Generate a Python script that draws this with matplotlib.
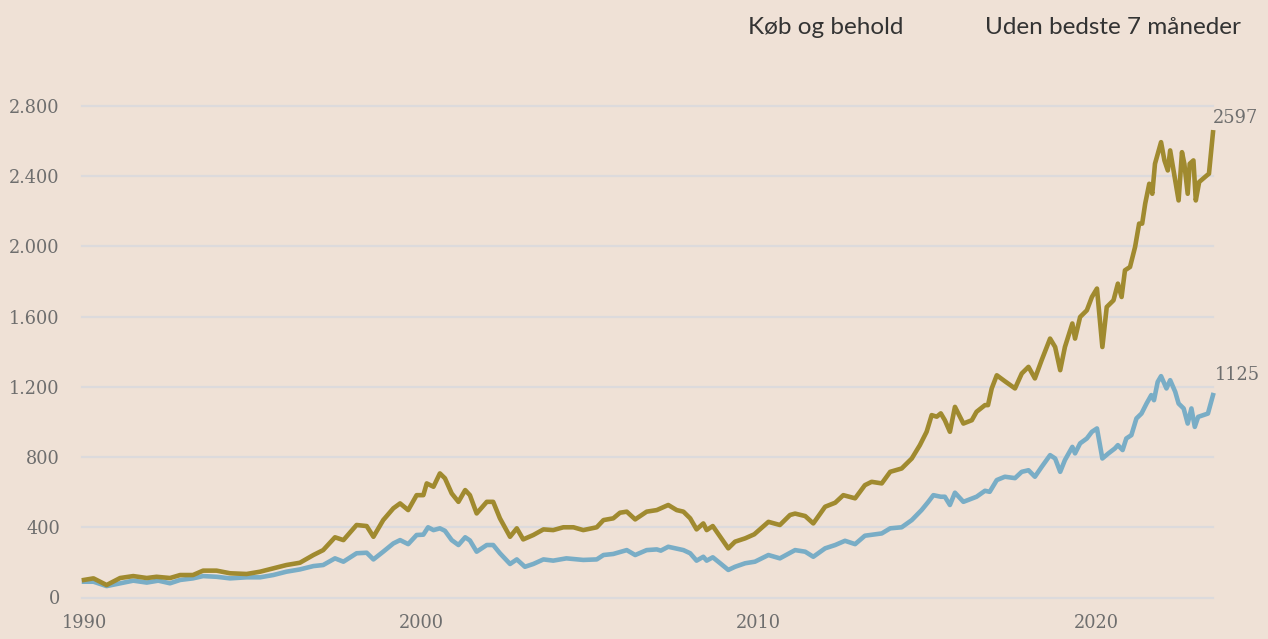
import matplotlib.pyplot as plt

# Buy-and-hold vs. missing the best 7 months
gold_years = [1990.00, 1990.28, 1990.67, 1991.07, 1991.46, 1991.86, 1992.15, 1992.55, 1992.85, 1993.23,
              1993.53, 1993.93, 1994.33, 1994.82, 1995.22, 1995.61, 1996.00, 1996.40, 1996.80, 1997.09,
              1997.44, 1997.69, 1998.08, 1998.38, 1998.58, 1998.87, 1999.17, 1999.37, 1999.61, 1999.86,
              2000.06, 2000.16, 2000.36, 2000.55, 2000.70, 2000.90, 2001.10, 2001.30, 2001.44, 2001.64,
              2001.94, 2002.13, 2002.33, 2002.63, 2002.83, 2003.02, 2003.32, 2003.62, 2003.91, 2004.21,
              2004.51, 2004.80, 2005.20, 2005.40, 2005.69, 2005.89, 2006.09, 2006.34, 2006.68, 2006.98,
              2007.32, 2007.57, 2007.77, 2007.97, 2008.16, 2008.36, 2008.46, 2008.64, 2008.86, 2009.10,
              2009.30, 2009.60, 2009.87, 2010.29, 2010.63, 2010.93, 2011.08, 2011.38, 2011.62, 2011.97,
              2012.27, 2012.51, 2012.86, 2013.15, 2013.35, 2013.65, 2013.90, 2014.24, 2014.54, 2014.78,
              2014.98, 2015.13, 2015.28, 2015.40, 2015.52, 2015.67, 2015.82, 2016.07, 2016.32, 2016.46,
              2016.71, 2016.80, 2016.91, 2017.06, 2017.30, 2017.60, 2017.80, 2018.00, 2018.19, 2018.39,
              2018.64, 2018.79, 2018.94, 2019.08, 2019.30, 2019.38, 2019.53, 2019.73, 2019.88, 2020.03,
              2020.19, 2020.32, 2020.52, 2020.65, 2020.76, 2020.86, 2021.01, 2021.16, 2021.28, 2021.37,
              2021.46, 2021.58, 2021.67, 2021.75, 2021.93, 2022.03, 2022.13, 2022.20, 2022.30, 2022.45,
              2022.55, 2022.62, 2022.72, 2022.78, 2022.89, 2022.96, 2023.06, 2023.29, 2023.35, 2023.47]
gold_vals = [100, 109, 71, 111, 122, 111, 118, 111, 128, 128,
             153, 153, 138, 134, 147, 166, 185, 198, 242, 270,
             343, 327, 413, 407, 346, 441, 508, 536, 498, 583,
             583, 650, 631, 707, 679, 593, 545, 612, 583, 479,
             545, 545, 451, 346, 394, 331, 356, 388, 384, 400,
             400, 384, 400, 441, 451, 483, 489, 445, 489, 498,
             527, 498, 489, 451, 388, 422, 384, 407, 346, 280,
             318, 337, 360, 431, 413, 470, 478, 464, 422, 517,
             540, 583, 565, 640, 659, 650, 716, 735, 792, 868,
             944, 1039, 1030, 1049, 1010, 944, 1086, 991, 1010, 1058,
             1096, 1096, 1191, 1266, 1232, 1191, 1276, 1314, 1248, 1352,
             1475, 1427, 1295, 1427, 1561, 1475, 1598, 1636, 1712, 1760,
             1427, 1655, 1693, 1788, 1712, 1864, 1883, 1997, 2130, 2130,
             2244, 2357, 2300, 2471, 2594, 2490, 2433, 2547, 2433, 2262,
             2537, 2471, 2300, 2471, 2490, 2262, 2367, 2405, 2414, 2650]

blue_years = [1990.00, 1990.28, 1990.67, 1991.07, 1991.46, 1991.86, 1992.20, 1992.55, 1992.85, 1993.23,
              1993.53, 1993.93, 1994.33, 1994.82, 1995.22, 1995.61, 1996.00, 1996.40, 1996.80, 1997.09,
              1997.44, 1997.69, 1998.08, 1998.38, 1998.58, 1998.87, 1999.17, 1999.37, 1999.61, 1999.86,
              2000.06, 2000.20, 2000.36, 2000.55, 2000.70, 2000.90, 2001.10, 2001.30, 2001.44, 2001.64,
              2001.94, 2002.13, 2002.33, 2002.63, 2002.83, 2003.07, 2003.32, 2003.62, 2003.91, 2004.30,
              2004.80, 2005.20, 2005.40, 2005.69, 2006.09, 2006.34, 2006.68, 2006.98, 2007.10, 2007.32,
              2007.77, 2007.97, 2008.16, 2008.36, 2008.46, 2008.64, 2008.86, 2009.10, 2009.30, 2009.60,
              2009.89, 2010.29, 2010.63, 2011.08, 2011.38, 2011.62, 2011.97, 2012.27, 2012.56, 2012.86,
              2013.15, 2013.65, 2013.90, 2014.24, 2014.54, 2014.83, 2015.03, 2015.18, 2015.40, 2015.52,
              2015.67, 2015.82, 2016.07, 2016.46, 2016.71, 2016.85, 2017.06, 2017.30, 2017.60, 2017.80,
              2018.00, 2018.19, 2018.39, 2018.64, 2018.79, 2018.94, 2019.08, 2019.30, 2019.38, 2019.53,
              2019.73, 2019.88, 2020.03, 2020.19, 2020.37, 2020.56, 2020.65, 2020.79, 2020.90, 2021.05,
              2021.20, 2021.35, 2021.50, 2021.64, 2021.72, 2021.83, 2021.93, 2022.09, 2022.20, 2022.35,
              2022.45, 2022.60, 2022.72, 2022.83, 2022.93, 2023.03, 2023.32, 2023.47]
blue_vals = [90, 90, 65, 81, 96, 85, 96, 81, 100, 109,
             122, 118, 109, 115, 115, 128, 147, 160, 179, 185,
             223, 204, 252, 255, 217, 261, 308, 327, 304, 356,
             358, 400, 384, 394, 380, 327, 299, 343, 325, 261,
             299, 299, 252, 191, 217, 175, 191, 217, 210, 223,
             214, 217, 242, 248, 270, 242, 270, 274, 267, 289,
             270, 252, 210, 232, 210, 229, 195, 157, 175, 195,
             204, 242, 223, 270, 261, 232, 280, 299, 323, 304,
             352, 365, 394, 400, 441, 498, 545, 583, 574, 574,
             527, 597, 545, 574, 608, 602, 669, 688, 680, 716,
             725, 688, 744, 811, 792, 716, 783, 858, 821, 878,
             906, 944, 963, 792, 821, 849, 868, 840, 906, 925,
             1020, 1048, 1105, 1153, 1124, 1228, 1261, 1191, 1238, 1172,
             1105, 1077, 991, 1077, 972, 1029, 1048, 1153]

series_names = ["Køb og behold", "Uden bedste 7 måneder"]
end_labels = ["2597", "1125"]
y_ticks = [0, 400, 800, 1200, 1600, 2000, 2400, 2800]
y_labels = ["0", "400", "800", "1.200", "1.600", "2.000", "2.400", "2.800"]
x_ticks = [1990, 2000, 2010, 2020]

bg = "#efe1d6"
gold = "#a08a2f"
blue = "#79adc6"
grid_col = "#dcdadc"
num_col = "#6e6e6e"
num_font = "DejaVu Serif"

W, H = 1268, 639
fig = plt.figure(figsize=(W / 100, H / 100), dpi=100)
fig.patch.set_facecolor(bg)
ax = fig.add_axes([82 / W, (H - 597.5) / H, 1131 / W, 491.5 / H])
ax.set_facecolor(bg)

ax.set_xlim(1989.94, 2023.47)
ax.set_ylim(0, 2800)

for y in y_ticks:
    ax.axhline(y, color=grid_col, lw=1.6, zorder=1, clip_on=False)

ax.plot(blue_years, blue_vals, color=blue, lw=3.3, solid_joinstyle="round", zorder=3, clip_on=False)
ax.plot(gold_years, gold_vals, color=gold, lw=3.3, solid_joinstyle="round", zorder=3, clip_on=False)

for s in ax.spines.values():
    s.set_visible(False)

ax.set_yticks(y_ticks)
ax.set_yticklabels(y_labels)
ax.set_xticks(x_ticks)
ax.set_xticklabels([str(x) for x in x_ticks])
ax.tick_params(axis="both", length=0, labelcolor=num_col, labelsize=12.8)
ax.tick_params(axis="y", pad=16)
ax.tick_params(axis="x", pad=12)
for lab in ax.get_xticklabels() + ax.get_yticklabels():
    lab.set_fontfamily(num_font)

# value labels at the line ends
ax.annotate(end_labels[0], xy=(gold_years[-1], gold_vals[-1]), xytext=(0, 14),
            textcoords="offset pixels", ha="left", va="center",
            color=num_col, fontsize=12.8, family=num_font, annotation_clip=False)
ax.annotate(end_labels[1], xy=(blue_years[-1], blue_vals[-1]), xytext=(2, 20),
            textcoords="offset pixels", ha="left", va="center",
            color=num_col, fontsize=12.8, family=num_font, annotation_clip=False)

# legend text at the top
fig.text(748 / W, 1 - 27 / H, series_names[0], ha="left", va="center",
         fontsize=17.5, family="Lato", color="#333333")
fig.text(985 / W, 1 - 27 / H, series_names[1], ha="left", va="center",
         fontsize=17.5, family="Lato", color="#333333")

fig.savefig("out.png", dpi=100, facecolor=bg)
